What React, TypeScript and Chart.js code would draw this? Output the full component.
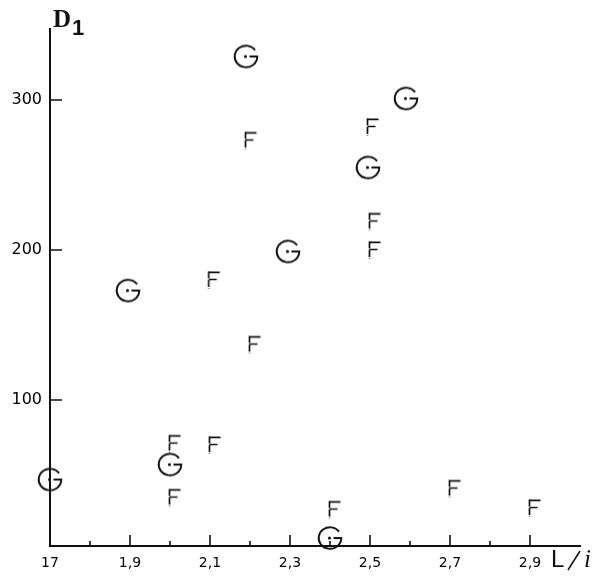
import React, { useEffect, useRef } from "react";
import { Chart, registerables } from "chart.js";
Chart.register(...registerables);

// Group G points
const gX = [2.19, 2.59, 2.495, 2.295, 1.895, 2.0, 1.7, 2.4];
const gY = [329, 301, 255, 199, 173, 57, 47, 8];
// Group F points
const fX = [2.2, 2.505, 2.51, 2.51, 2.108, 2.21, 2.01, 2.11, 2.01, 2.41, 2.71, 2.91];
const fY = [273, 282, 219, 200, 180, 137, 71, 70, 35, 27, 41, 28];

const xLabelValues = [1.7, 1.9, 2.1, 2.3, 2.5, 2.7, 2.9];
const xLabelTexts = ["17", "1,9", "2,1", "2,3", "2,5", "2,7", "2,9"];
const xMajorTicks = [1.9, 2.1, 2.3, 2.5, 2.7, 2.9];
const xMinorTicks = [1.8, 2.0, 2.2, 2.4, 2.6, 2.8];
const yTickValues = [100, 200, 300];
const yTickLabels = ["100", "200", "300"];

const INK = "#111";

function makeG(): HTMLCanvasElement {
  const c = document.createElement("canvas");
  c.width = 28;
  c.height = 28;
  const ctx = c.getContext("2d")!;
  ctx.strokeStyle = INK;
  ctx.lineWidth = 1.9;
  ctx.beginPath();
  ctx.ellipse(14, 14, 11.3, 10.8, 0, -Math.PI / 5, 0, true);
  ctx.lineTo(17.5, 14);
  ctx.stroke();
  ctx.beginPath();
  ctx.arc(13.5, 14, 1.6, 0, Math.PI * 2);
  ctx.fillStyle = INK;
  ctx.fill();
  return c;
}

function makeF(): HTMLCanvasElement {
  const c = document.createElement("canvas");
  c.width = 16;
  c.height = 20;
  const ctx = c.getContext("2d")!;
  ctx.strokeStyle = INK;
  ctx.lineWidth = 1.7;
  ctx.beginPath();
  ctx.setLineDash([7, 1.5]);
  ctx.moveTo(3.5, 1.5);
  ctx.lineTo(3.5, 19);
  ctx.stroke();
  ctx.setLineDash([]);
  ctx.beginPath();
  ctx.moveTo(3, 2.3);
  ctx.lineTo(14.5, 2.3);
  ctx.moveTo(3.5, 9.5);
  ctx.lineTo(11.5, 9.5);
  ctx.stroke();
  return c;
}

const decorPlugin = {
  id: "decor",
  afterDatasetsDraw(chart: any) {
    const ctx = chart.ctx as CanvasRenderingContext2D;
    const xs = chart.scales.x;
    const ys = chart.scales.y;
    const area = chart.chartArea;
    ctx.save();
    ctx.strokeStyle = INK;
    ctx.lineWidth = 1.6;
    ctx.beginPath();
    xMajorTicks.forEach((v) => {
      const px = xs.getPixelForValue(v);
      ctx.moveTo(px, area.bottom);
      ctx.lineTo(px, area.bottom - 11);
    });
    xMinorTicks.forEach((v) => {
      const px = xs.getPixelForValue(v);
      ctx.moveTo(px, area.bottom);
      ctx.lineTo(px, area.bottom - 5);
    });
    yTickValues.forEach((v) => {
      const py = ys.getPixelForValue(v);
      ctx.moveTo(area.left, py);
      ctx.lineTo(area.left + 12, py);
    });
    ctx.stroke();

    ctx.fillStyle = INK;
    ctx.textBaseline = "alphabetic";
    ctx.textAlign = "left";
    ctx.font = "bold 25px 'Liberation Serif'";
    ctx.fillText("D", 53, 27);
    ctx.font = "bold 22px 'Liberation Sans'";
    ctx.fillText("1", 72, 35);

    ctx.font = "24px 'Liberation Sans'";
    ctx.fillText("L", 551, 567);
    ctx.lineWidth = 1.5;
    ctx.beginPath();
    ctx.moveTo(568, 570);
    ctx.lineTo(580, 551);
    ctx.stroke();
    ctx.font = "italic 25px 'Liberation Serif'";
    ctx.fillText("i", 584, 567);
    ctx.restore();
  },
};

export default function App() {
  const ref = useRef<HTMLCanvasElement>(null);
  useEffect(() => {
    if (!ref.current) return;
    const gImg = makeG();
    const fImg = makeF();
    const chart = new Chart(ref.current, {
      type: "scatter",
      data: {
        datasets: [
          {
            label: "G",
            data: gX.map((x, i) => ({ x, y: gY[i] })),
            pointStyle: gImg as any,
            pointRadius: 12,
            clip: false as any,
          },
          {
            label: "F",
            data: fX.map((x, i) => ({ x, y: fY[i] })),
            pointStyle: fImg as any,
            pointRadius: 9,
            clip: false as any,
          },
        ],
      },
      options: {
        animation: false,
        responsive: false,
        maintainAspectRatio: false,
        layout: { padding: { top: 29, right: 18, left: 0, bottom: 0 } },
        plugins: { legend: { display: false }, tooltip: { enabled: false } },
        scales: {
          x: {
            type: "linear",
            min: 1.7,
            max: 3.025,
            afterBuildTicks: (s: any) => {
              s.ticks = xLabelValues.map((v) => ({ value: v }));
            },
            afterFit: (s: any) => {
              s.height = 31;
            },
            grid: { display: false, drawTicks: false, tickLength: 0 },
            border: { display: true, color: INK, width: 2 },
            ticks: {
              autoSkip: false,
              maxRotation: 0,
              padding: 9,
              color: "#000",
              font: { family: "'DejaVu Sans'", size: 14 },
              callback: (_v: any, i: number) => xLabelTexts[i],
            },
          },
          y: {
            type: "linear",
            min: 2.7,
            max: 347.3,
            afterBuildTicks: (s: any) => {
              s.ticks = yTickValues.map((v) => ({ value: v }));
            },
            afterFit: (s: any) => {
              s.width = 50;
            },
            grid: { display: false, drawTicks: false, tickLength: 0 },
            border: { display: true, color: INK, width: 2 },
            ticks: {
              padding: 8,
              color: "#000",
              font: { family: "'DejaVu Sans'", size: 16 },
              callback: (_v: any, i: number) => yTickLabels[i],
            },
          },
        },
      },
      plugins: [decorPlugin],
    });
    return () => chart.destroy();
  }, []);
  return (
    <div style={{ position: "fixed", left: 0, top: 0, width: 598, height: 577, background: "#fff" }}>
      <canvas ref={ref} width={598} height={577} style={{ display: "block", width: 598, height: 577 }} />
    </div>
  );
}
